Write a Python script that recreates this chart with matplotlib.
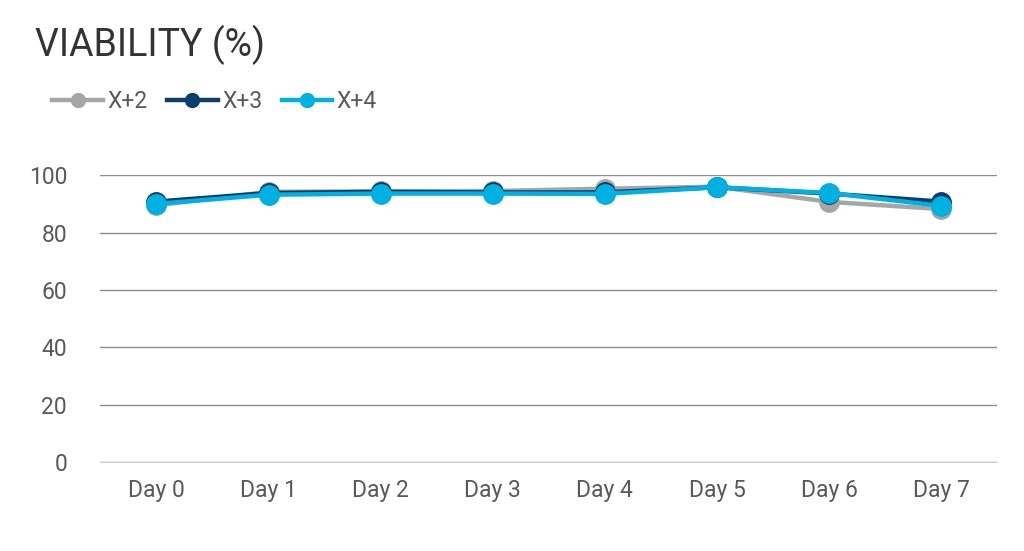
import matplotlib.pyplot as plt

plt.rcParams['font.family'] = ['Roboto', 'DejaVu Sans']

days = ['Day 0', 'Day 1', 'Day 2', 'Day 3', 'Day 4', 'Day 5', 'Day 6', 'Day 7']
x2 = [89.5, 94.2, 94.4, 94.5, 95.3, 96.0, 90.7, 88.2]
x3 = [90.8, 93.8, 94.2, 94.0, 94.0, 95.8, 93.6, 90.8]
x4 = [90.0, 93.2, 93.6, 93.6, 93.5, 95.8, 93.8, 89.3]
series = [('X+2', x2, '#a6a6a6'), ('X+3', x3, '#0d3e6b'), ('X+4', x4, '#00b0e0')]

fig = plt.figure(figsize=(10.24, 5.51), dpi=100)
ax = fig.add_axes([0.098, 0.1615, 0.876, 0.5205])

xs = range(len(days))
for name, vals, col in series:
    ax.plot(xs, vals, color=col, lw=3.2, marker='o', ms=14, label=name, zorder=3)

ax.set_xlim(-0.5, len(days) - 0.5)
ax.set_ylim(0, 100)
ax.set_yticks([0, 20, 40, 60, 80, 100])
ax.set_xticks(list(xs))
ax.set_xticklabels(days)
ax.yaxis.grid(True, color='#8c8c8c', lw=1)
ax.set_axisbelow(True)
for s in ['top', 'right', 'left']:
    ax.spines[s].set_visible(False)
ax.spines['bottom'].set_color('#d0d0d0')
ax.tick_params(length=0, labelsize=16.5, colors='#595959', pad=12)
ax.tick_params(axis='y', pad=24)

fig.text(0.034, 0.918, 'VIABILITY (%)', fontsize=27, color='#333333', va='center')
handles = [plt.Line2D([], [], color=c, lw=3.2, marker='o', ms=10) for _, _, c in series]
fig.legend(handles, [n for n, _, _ in series], loc='center left',
           bbox_to_anchor=(0.031, 0.815), ncol=3, frameon=False, fontsize=16.5,
           labelcolor='#595959', handlelength=2.2, handletextpad=0.2,
           columnspacing=0.85)

fig.savefig('out.png', dpi=100)
